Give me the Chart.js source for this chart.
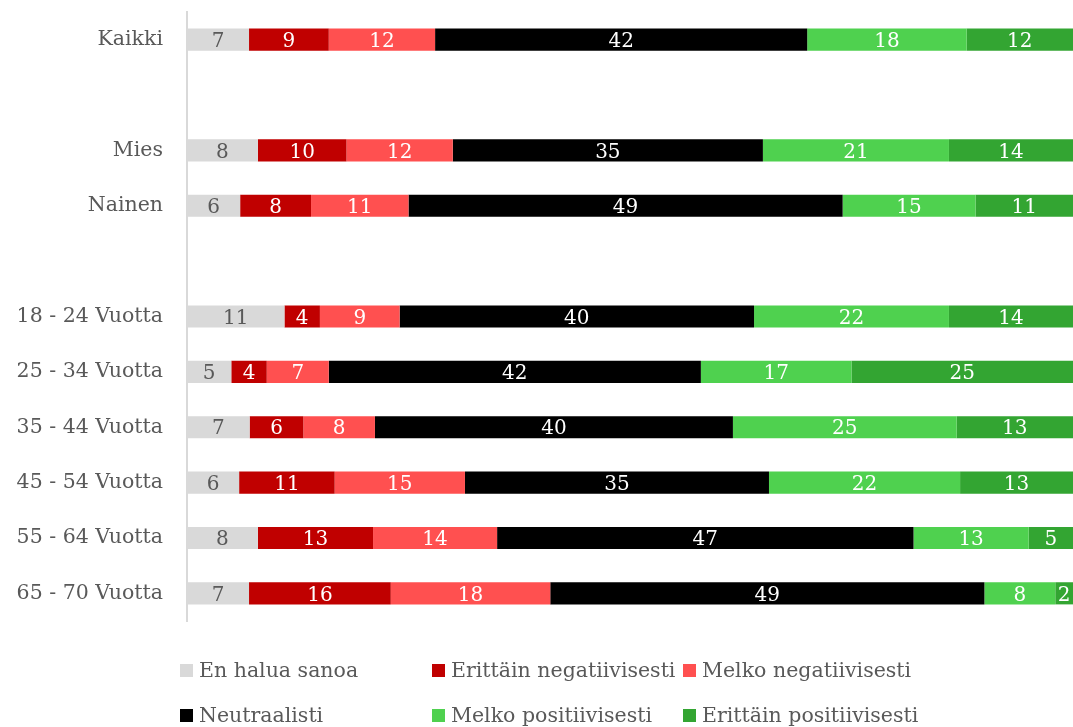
<!DOCTYPE html>
<html>
<head>
<meta charset="utf-8">
<script src="https://cdn.jsdelivr.net/npm/chart.js@4"></script>
<style>
  html, body { margin: 0; padding: 0; background: #fff; }
  #wrap { position: relative; width: 1073px; height: 727px; }
  #legend { position: absolute; left: 0; top: 0; width: 1073px; height: 727px; pointer-events: none;
            font-family: "DejaVu Serif", serif; font-size: 20.5px; color: #595959; }
  .li { position: absolute; display: flex; align-items: center; white-space: nowrap; }
  .sw { width: 13px; height: 13px; margin-right: 6px; }
</style>
</head>
<body>
<div id="wrap">
  <canvas id="c" width="1073" height="727"></canvas>
  <div id="legend"></div>
</div>
<script>
const categories = ['Kaikki', '', 'Mies', 'Nainen', '', '18 - 24 Vuotta', '25 - 34 Vuotta', '35 - 44 Vuotta', '45 - 54 Vuotta', '55 - 64 Vuotta', '65 - 70 Vuotta'];
const seriesNames = ['En halua sanoa', 'Erittäin negatiivisesti', 'Melko negatiivisesti', 'Neutraalisti', 'Melko positiivisesti', 'Erittäin positiivisesti'];
const seriesColors = ['#D9D9D9', '#C00000', '#FF5050', '#000000', '#4FD14F', '#33A532'];
const enHaluaSanoa   = [7, null, 8, 6, null, 11, 5, 7, 6, 8, 7];
const erittainNeg    = [9, null, 10, 8, null, 4, 4, 6, 11, 13, 16];
const melkoNeg       = [12, null, 12, 11, null, 9, 7, 8, 15, 14, 18];
const neutraalisti   = [42, null, 35, 49, null, 40, 42, 40, 35, 47, 49];
const melkoPos       = [18, null, 21, 15, null, 22, 17, 25, 22, 13, 8];
const erittainPos    = [12, null, 14, 11, null, 14, 25, 13, 13, 5, 2];
const seriesValues = [enHaluaSanoa, erittainNeg, melkoNeg, neutraalisti, melkoPos, erittainPos];

// 100 % stacked: each row is shown as share of its total
const rowTotals = categories.map((_, i) => seriesValues.reduce((s, arr) => s + (arr[i] || 0), 0));

const FONT = '"DejaVu Serif", serif';

const datasets = seriesValues.map((arr, k) => ({
  label: seriesNames[k],
  data: arr.map((v, i) => v == null ? null : v / rowTotals[i] * 100),
  raw: arr,
  backgroundColor: seriesColors[k],
  borderWidth: 0,
  barPercentage: 0.4,
  categoryPercentage: 1.0
}));

const labelPlugin = {
  id: 'segLabels',
  afterDatasetsDraw(chart) {
    const ctx = chart.ctx;
    ctx.save();
    ctx.font = '20px ' + FONT;
    ctx.textAlign = 'center';
    ctx.textBaseline = 'middle';
    chart.data.datasets.forEach((ds, k) => {
      const meta = chart.getDatasetMeta(k);
      meta.data.forEach((el, i) => {
        const v = ds.raw[i];
        if (v == null) return;
        ctx.fillStyle = k === 0 ? '#595959' : '#FFFFFF';
        ctx.fillText(String(v), (el.x + el.base) / 2, el.y + 2);
      });
    });
    ctx.restore();
  }
};

new Chart(document.getElementById('c'), {
  type: 'bar',
  data: { labels: categories, datasets },
  options: {
    indexAxis: 'y',
    responsive: false,
    animation: false,
    layout: { padding: { top: 12, bottom: 106, left: 0, right: 0 } },
    plugins: { legend: { display: false }, tooltip: { enabled: false } },
    scales: {
      x: { stacked: true, min: 0, max: 100, display: false },
      y: {
        stacked: true,
        grid: { display: false },
        border: { display: true, color: '#D9D9D9', width: 2 },
        ticks: { color: '#595959', font: { family: FONT, size: 20.5 }, padding: 16 },
        afterFit(s) { s.width = 187; s.paddingTop = 0; s.paddingBottom = 0; }
      }
    }
  },
  plugins: [labelPlugin]
});

// legend
const legend = document.getElementById('legend');
const colX = [180, 432, 683];
const rowY = [670, 715];
seriesNames.forEach((name, k) => {
  const d = document.createElement('div');
  d.className = 'li';
  d.style.left = colX[k % 3] + 'px';
  d.style.top = (rowY[Math.floor(k / 3)] - 13) + 'px';
  d.style.height = '26px';
  const sw = document.createElement('span');
  sw.className = 'sw';
  sw.style.background = seriesColors[k];
  const t = document.createElement('span');
  t.textContent = name;
  d.appendChild(sw); d.appendChild(t);
  legend.appendChild(d);
});
</script>
</body>
</html>
